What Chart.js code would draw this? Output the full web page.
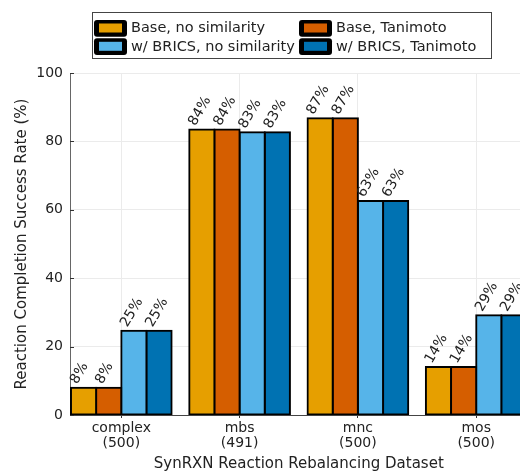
<!DOCTYPE html>
<html><head><meta charset="utf-8">
<script src="https://cdn.jsdelivr.net/npm/chart.js@4.4.1/dist/chart.umd.min.js"></script>
<style>
html,body{margin:0;padding:0;overflow:hidden;background:#fff;width:520px;height:472px}
#wrap{position:absolute;left:0;top:0;width:540px;height:472px}
</style>
</head><body><div id="wrap"><canvas id="c" width="540" height="472"></canvas></div>
<script>
const categories = ['complex', 'mbs', 'mnc', 'mos'];
const datasetSizes = ['(500)', '(491)', '(500)', '(500)'];
const seriesNames = ['Base, no similarity', 'Base, Tanimoto', 'w/ BRICS, no similarity', 'w/ BRICS, Tanimoto'];
const baseNoSim = [8.0, 83.5, 86.8, 14.0];
const baseTanimoto = [8.0, 83.5, 86.8, 14.0];
const bricsNoSim = [24.6, 82.7, 62.6, 29.2];
const bricsTanimoto = [24.6, 82.7, 62.6, 29.2];
const yTicks = [0, 20, 40, 60, 80, 100];
const seriesColors = ['#E69F00', '#D55E00', '#56B4E9', '#0072B2'];

const FONT = '"DejaVu Sans", sans-serif';
const TXT = '#222';
const allSeries = [baseNoSim, baseTanimoto, bricsNoSim, bricsTanimoto];

const datasets = allSeries.map((vals, si) => ({
  label: seriesNames[si],
  data: vals.map((v, i) => ({x: i + 1, y: v})),
  backgroundColor: seriesColors[si],
  borderColor: '#000',
  borderWidth: 2,
  borderSkipped: false,
  inflateAmount: 1,
  categoryPercentage: 0.851,
  barPercentage: 1.0
}));

const valueLabels = {
  id: 'valueLabels',
  afterDatasetsDraw(chart) {
    const ctx = chart.ctx;
    ctx.save();
    ctx.font = '14px ' + FONT;
    ctx.fillStyle = TXT;
    ctx.textAlign = 'left';
    ctx.textBaseline = 'alphabetic';
    chart.data.datasets.forEach((ds, di) => {
      const meta = chart.getDatasetMeta(di);
      meta.data.forEach((el, i) => {
        const v = ds.data[i].y;
        const left = el.x - el.width / 2;
        ctx.save();
        ctx.translate(left + 6, el.y - 3);
        ctx.rotate(-60 * Math.PI / 180);
        ctx.fillText(Math.round(v) + '%', 0, 0);
        ctx.restore();
      });
    });
    ctx.restore();
  }
};

const yInnerTicks = {
  id: 'yInnerTicks',
  afterDatasetsDraw(chart) {
    const ctx = chart.ctx;
    const ys = chart.scales.y;
    ctx.save();
    ctx.strokeStyle = '#333';
    ctx.lineWidth = 1;
    yTicks.forEach(t => {
      const py = Math.round(ys.getPixelForValue(t)) + 0.5;
      ctx.beginPath();
      ctx.moveTo(chart.chartArea.left, py);
      ctx.lineTo(chart.chartArea.left + 4, py);
      ctx.stroke();
    });
    ctx.restore();
  }
};

const boxLegend = {
  id: 'boxLegend',
  afterDraw(chart) {
    const ctx = chart.ctx;
    ctx.save();
    ctx.strokeStyle = '#444';
    ctx.lineWidth = 1;
    ctx.strokeRect(92.5, 12.5, 399, 46);
    const cols = [94, 299];
    const rows = [20, 38.3];
    ctx.font = '14.5px ' + FONT;
    ctx.textBaseline = 'middle';
    ctx.textAlign = 'left';
    chart.data.datasets.forEach((ds, i) => {
      const cx = cols[i % 2];
      const ry = rows[Math.floor(i / 2)];
      ctx.fillStyle = '#000';
      ctx.beginPath();
      ctx.roundRect(cx, ry, 33, 16.7, 3);
      ctx.fill();
      ctx.fillStyle = ds.backgroundColor;
      ctx.fillRect(cx + 5, ry + 3.5, 23, 9);
      ctx.fillStyle = TXT;
      ctx.fillText(ds.label, cx + 37, ry + 8.5);
    });
    ctx.restore();
  }
};

new Chart(document.getElementById('c'), {
  type: 'bar',
  data: {datasets},
  options: {
    responsive: false,
    animation: false,
    devicePixelRatio: 1,
    layout: {padding: {top: 73, right: 12.5, bottom: 0, left: 0}},
    plugins: {legend: {display: false}, tooltip: {enabled: false}},
    scales: {
      x: {
        type: 'linear',
        offset: false,
        min: 0.5664,
        max: 4.4336,
        afterBuildTicks: s => { s.ticks = categories.map((c, i) => ({value: i + 1})); },
        afterFit: s => { s.height = 57; },
        ticks: {
          font: {family: FONT, size: 14, lineHeight: 1.07},
          color: TXT,
          padding: 3,
          maxRotation: 0,
          autoSkip: false,
          callback: v => [categories[v - 1], datasetSizes[v - 1]]
        },
        grid: {color: '#ebebeb', tickColor: '#333', tickLength: 3, offset: false},
        border: {color: '#444', width: 1},
        title: {
          display: true,
          text: 'SynRXN Reaction Rebalancing Dataset',
          font: {family: FONT, size: 15, lineHeight: 1.0},
          color: TXT,
          padding: {top: 0, bottom: 0.5}
        }
      },
      y: {
        min: 0,
        max: 100,
        afterBuildTicks: s => { s.ticks = yTicks.map(v => ({value: v})); },
        afterFit: s => { s.width = 70; },
        ticks: {font: {family: FONT, size: 14}, color: TXT, padding: 7},
        grid: {color: '#ebebeb', drawTicks: false},
        border: {color: '#666', width: 1},
        title: {
          display: true,
          text: 'Reaction Completion Success Rate (%)',
          font: {family: FONT, size: 15, lineHeight: 1.2},
          color: TXT,
          padding: {top: 13, bottom: 0}
        }
      }
    }
  },
  plugins: [valueLabels, yInnerTicks, boxLegend]
});
</script>
</body></html>
